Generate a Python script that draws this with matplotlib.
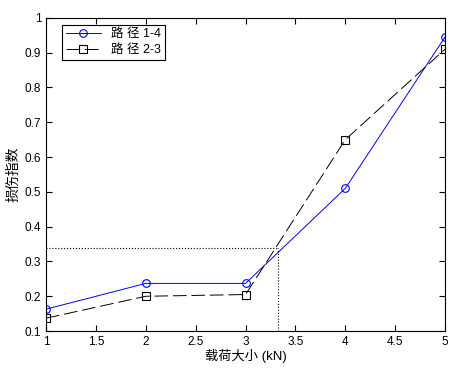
import numpy as np
import matplotlib
matplotlib.use("Agg")
import matplotlib.pyplot as plt

plt.rcParams['font.family'] = ['Liberation Sans', 'Noto Sans CJK SC', 'DejaVu Sans']

load = [1, 2, 3, 4, 5]
path14 = [0.163, 0.237, 0.237, 0.51, 0.945]
path23 = [0.137, 0.200, 0.205, 0.65, 0.91]
labels = ['路 径 1-4', '路 径 2-3']
ref_x = 3.33
ref_y = 0.34

fig = plt.figure(figsize=(4.56, 3.72), dpi=100)
ax = fig.add_axes([0.101, 0.110, 0.875, 0.842])

ax.plot(load, path14, '-', color='blue', lw=0.7, marker='o', mfc='none',
        mec='blue', ms=5.5, mew=0.8, label=labels[0])
ax.plot(load, path23, '--', color='black', lw=0.7, dashes=(14, 5), marker='s',
        mfc='none', mec='black', ms=5.5, mew=0.8, label=labels[1])

# reference lines
ax.plot([1, ref_x], [ref_y, ref_y], ':', color='black', lw=0.8)
ax.plot([ref_x, ref_x], [0.1, ref_y], ':', color='black', lw=0.8)

ax.set_xlim(1, 5)
ax.set_ylim(0.1, 1)
ax.set_xticks(np.arange(1, 5.01, 0.5))
ax.set_xticklabels(['1', '1.5', '2', '2.5', '3', '3.5', '4', '4.5', '5'])
ax.set_yticks(np.arange(0.1, 1.01, 0.1))
ax.set_yticklabels(['0.1', '0.2', '0.3', '0.4', '0.5', '0.6', '0.7', '0.8', '0.9', '1'])
ax.tick_params(direction='in', length=4, width=0.8, labelsize=8.5, top=True, right=True)
for s in ax.spines.values():
    s.set_linewidth(0.8)

ax.set_xlabel('载荷大小 (kN)', fontsize=9.5, labelpad=1)
ax.set_ylabel('损伤指数', fontsize=10, labelpad=3)

leg = ax.legend(loc='upper left', fontsize=9, fancybox=False, framealpha=1,
                edgecolor='black', borderpad=0.3, handlelength=2.8,
                labelspacing=0.3, borderaxespad=0,
                bbox_to_anchor=(0.04, 0.978))
leg.get_frame().set_linewidth(0.8)

fig.savefig('out.png', dpi=100)
